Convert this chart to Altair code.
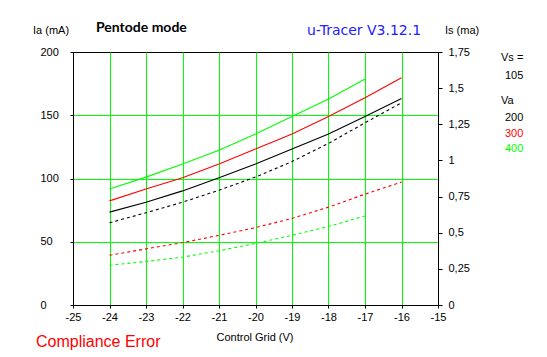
import altair as alt
import pandas as pd

# ---- data ----
grid_volts = [-24, -23, -22, -21, -20, -19, -18, -17, -16]
va_levels = ["200", "300", "400"]

# anode current Ia (mA), solid lines
ia_200 = [73.4, 81.3, 90.2, 100.6, 111.4, 123.3, 135.2, 149.0, 163.3]
ia_300 = [82.3, 91.7, 100.6, 111.4, 123.3, 135.2, 149.0, 163.8, 179.6]
ia_400 = [91.7, 101.1, 111.4, 122.3, 135.2, 149.0, 162.8, 178.6]

# screen current Is (mA), dashed lines (right axis)
is_200 = [0.569, 0.638, 0.711, 0.794, 0.885, 0.992, 1.118, 1.260, 1.399]
is_300 = [0.344, 0.388, 0.431, 0.482, 0.535, 0.599, 0.677, 0.767, 0.850]
is_400 = [0.275, 0.301, 0.331, 0.375, 0.426, 0.482, 0.543, 0.616]

x_ticks = [-25, -24, -23, -22, -21, -20, -19, -18, -17, -16, -15]
ia_ticks = [0, 50, 100, 150, 200]
is_ticks = [0, 0.25, 0.5, 0.75, 1, 1.25, 1.5, 1.75]

colors = ["#000000", "#ff0000", "#00ff00"]
GREEN = "#00ff00"
FONT = "Liberation Sans"

ia_df = pd.concat([
    pd.DataFrame({"vg": grid_volts[:len(v)], "ia": v, "va": va})
    for va, v in zip(va_levels, [ia_200, ia_300, ia_400])
])
is_df = pd.concat([
    pd.DataFrame({"vg": grid_volts[:len(v)], "is": v, "va": va})
    for va, v in zip(va_levels, [is_200, is_300, is_400])
])

color = alt.Color("va:N", scale=alt.Scale(domain=va_levels, range=colors), legend=None)

x_enc = alt.X(
    "vg:Q",
    scale=alt.Scale(domain=[-25, -15], nice=False, zero=False),
    axis=alt.Axis(
        values=x_ticks, title=None, grid=True, gridColor=GREEN, gridWidth=1,
        gridOpacity={"condition": {"test": "datum.value <= -25 || datum.value >= -15", "value": 0}, "value": 1},
        domainColor="black", tickColor="black", tickSize=3, labelPadding=3,
        labelFont=FONT, labelFontSize=11, labelColor="black",
        labelExpr="toString(datum.value)", labelFlush=False,
    ),
)

ia_layer = alt.Chart(ia_df).mark_line(strokeWidth=1.1).encode(
    x=x_enc,
    y=alt.Y(
        "ia:Q",
        scale=alt.Scale(domain=[0, 200], nice=False),
        axis=alt.Axis(
            orient="left", values=ia_ticks, title=None, grid=True, gridColor=GREEN, gridWidth=1,
            gridOpacity={"condition": {"test": "datum.value <= 0 || datum.value >= 200", "value": 0}, "value": 1},
            domainColor="black", tickColor="black", tickSize=3, labelPadding=30,
            labelAlign="left", labelFont=FONT, labelFontSize=11, labelColor="black",
            labelExpr="toString(datum.value)", labelFlush=False,
        ),
    ),
    color=color,
    detail="va:N",
)

is_layer = alt.Chart(is_df).mark_line(strokeWidth=1.1, strokeDash=[3, 3]).encode(
    x=x_enc,
    y=alt.Y(
        "is:Q",
        scale=alt.Scale(domain=[0, 1.75], nice=False),
        axis=alt.Axis(
            orient="right", values=is_ticks, title=None, grid=False,
            domainColor="black", tickColor="black", tickSize=4, labelPadding=6,
            labelAlign="left", labelFont=FONT, labelFontSize=11, labelColor="black",
            labelExpr="replace(toString(datum.value), '.', ',')", labelFlush=False,
        ),
    ),
    color=color,
    detail="va:N",
)

LEFT, TOP = 73, 52


def label(text, x, y, color="black", size=11, font=FONT, weight="normal", align="left"):
    return alt.Chart(pd.DataFrame({"t": [text]})).mark_text(
        align=align, baseline="middle", font=font, fontSize=size,
        fontWeight=weight, color=color,
    ).encode(x=alt.value(x - LEFT), y=alt.value(y - TOP), text="t:N")


texts = [
    label("Ia (mA)", 33, 31),
    label("Pentode mode", 96, 28, size=14, font="Lato", weight="bold"),
    label("u-Tracer V3.12.1", 307, 31, color="#2020ff", size=14, font="DejaVu Sans"),
    label("Is (ma)", 445, 31),
    label("Vs =", 501, 58),
    label("105", 505, 76),
    label("Va", 501, 101),
    label(va_levels[0], 505, 118, color=colors[0]),
    label(va_levels[1], 505, 134, color=colors[1]),
    label(va_levels[2], 505, 149, color=colors[2]),
    label("Control Grid (V)", 255, 338, align="center"),
    label("Compliance Error", 36, 342, color="#ff0000", size=16),
]

chart = alt.layer(ia_layer, is_layer, *texts).resolve_scale(y="independent").properties(
    width=365, height=253,
    autosize=alt.AutoSizeParams(type="none"),
    padding={"left": 73, "top": 52, "right": 109, "bottom": 52},
    background="white",
).configure_view(stroke="black", strokeWidth=1)

chart.save("out.html", embed_options={"renderer": "svg", "actions": False})
